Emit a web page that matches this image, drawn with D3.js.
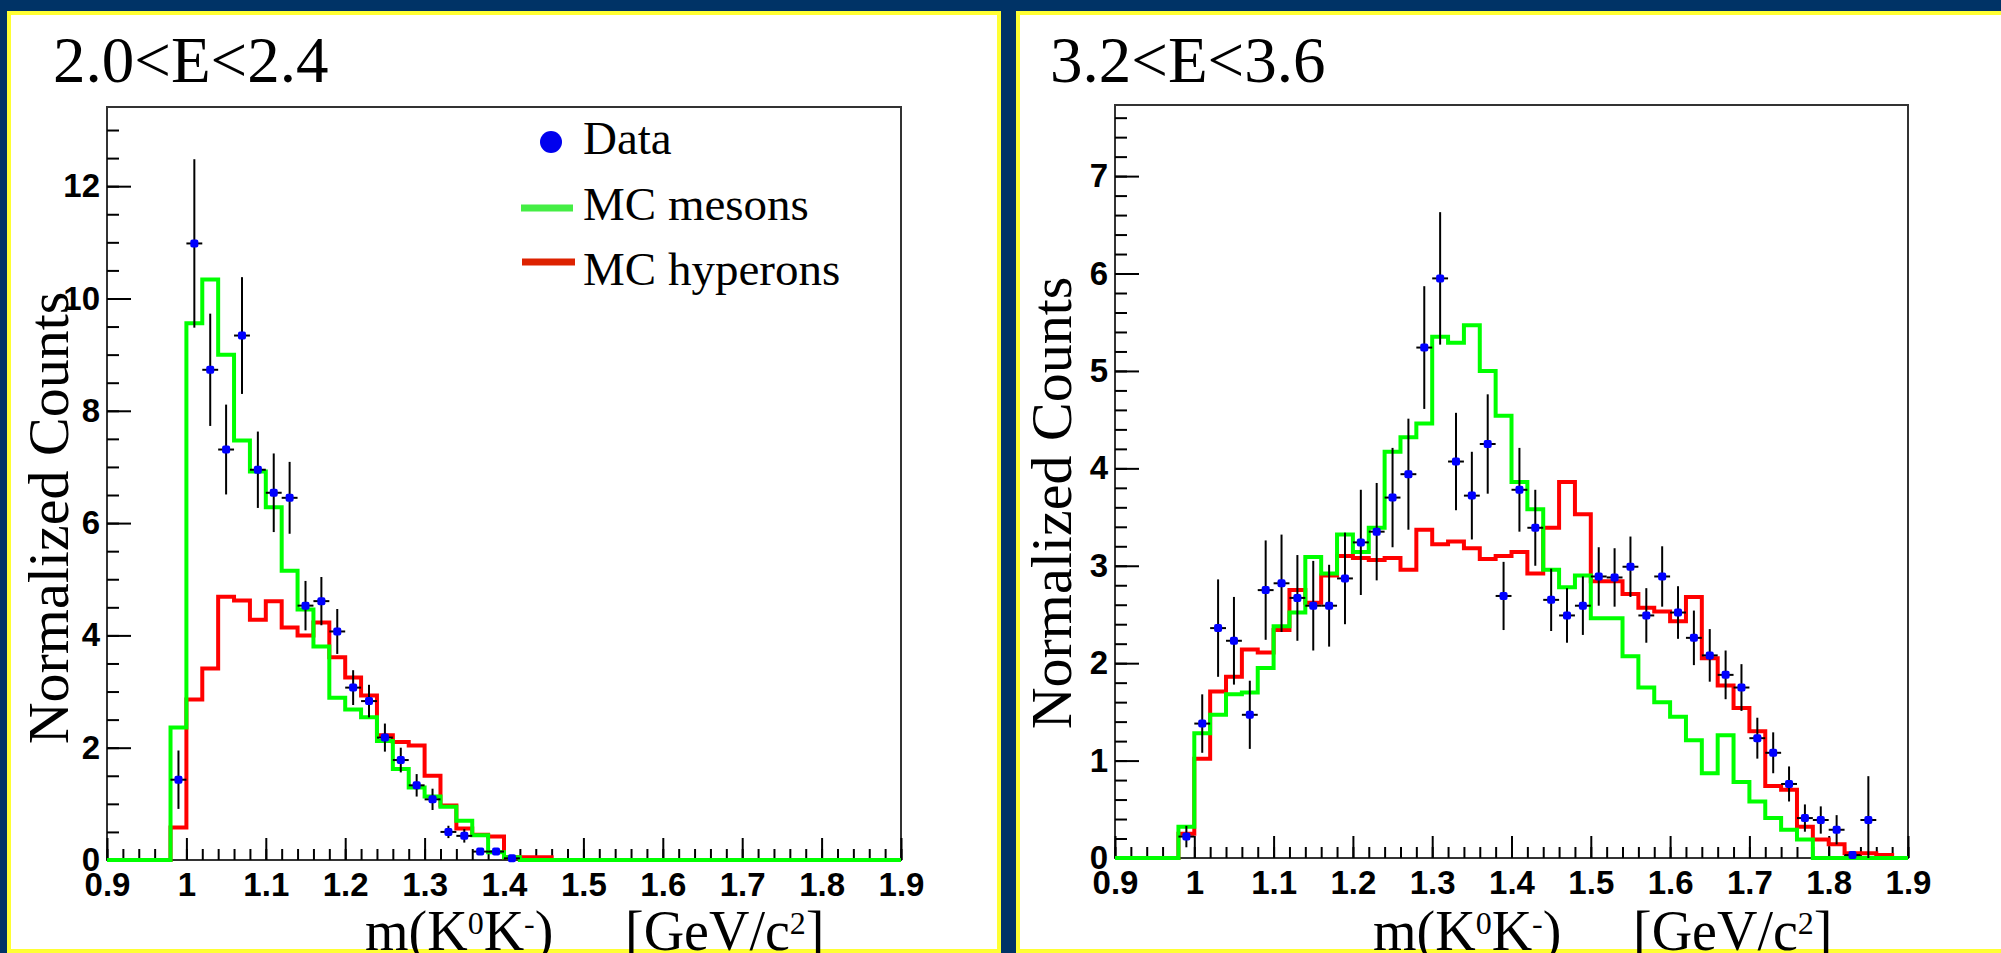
<!DOCTYPE html>
<html>
<head>
<meta charset="utf-8">
<script src="https://cdn.jsdelivr.net/npm/d3@7"></script>
<style>
    body { margin: 0; background: #003366; overflow: hidden; }
    .tick text {
        font-family: "Liberation Sans", Arial, sans-serif;
        font-weight: bold;
        font-size: 33px;
        fill: #000;
    }
    .serif { font-family: "Liberation Serif", "Times New Roman", serif; fill: #000; }
</style>
</head>
<body>
<script>
// histogram bins: 0.02 GeV/c2 wide, 0.9 -> 1.9
const binStart = 0.9;
const binWidth = 0.02;
const xTicks = [0.9, 1.0, 1.1, 1.2, 1.3, 1.4, 1.5, 1.6, 1.7, 1.8, 1.9];

// 2.0 < E < 2.4
const lowMesons = [
    0, 0, 0, 0, 2.36, 9.56, 10.34, 9.0, 7.47, 6.92,
    6.28, 5.15, 4.46, 3.80, 2.89, 2.68, 2.54, 2.12, 1.62, 1.29,
    1.13, 0.95, 0.70, 0.44, 0.14, 0.05, 0, 0, 0, 0,
    0, 0, 0, 0, 0, 0, 0, 0, 0, 0,
    0, 0, 0, 0, 0, 0, 0, 0, 0, 0,
];
const lowHyperons = [
    0, 0, 0, 0, 0.58, 2.86, 3.41, 4.69, 4.62, 4.28,
    4.61, 4.14, 4.0, 4.23, 3.61, 3.25, 2.93, 2.22, 2.10, 2.04,
    1.50, 0.97, 0.56, 0.45, 0.42, 0.05, 0.05, 0.05, 0, 0,
    0, 0, 0, 0, 0, 0, 0, 0, 0, 0,
    0, 0, 0, 0, 0, 0, 0, 0, 0, 0,
];
const lowDataMass = [
    0.99, 1.01, 1.03, 1.05, 1.07, 1.09, 1.11, 1.13, 1.15, 1.17, 1.19,
    1.21, 1.23, 1.25, 1.27, 1.29, 1.31, 1.33, 1.35, 1.37, 1.39, 1.41,
];
const lowDataCounts = [
    1.43, 10.98, 8.73, 7.31, 9.34, 6.95, 6.54, 6.45, 4.53, 4.61, 4.07,
    3.07, 2.83, 2.18, 1.78, 1.33, 1.08, 0.50, 0.43, 0.15, 0.15, 0.03,
];
const lowDataErr = [
    0.52, 1.5, 1.0, 0.8, 1.04, 0.68, 0.7, 0.64, 0.44, 0.43, 0.4,
    0.31, 0.29, 0.25, 0.22, 0.2, 0.19, 0.11, 0.12, 0.03, 0.03, 0.02,
];

// 3.2 < E < 3.6
const highMesons = [
    0, 0, 0, 0, 0.32, 1.28, 1.47, 1.68, 1.70, 1.95,
    2.38, 2.52, 3.09, 2.92, 3.32, 3.14, 3.39, 4.17, 4.32, 4.46,
    5.35, 5.29, 5.47, 5.0, 4.54, 3.86, 3.58, 2.96, 2.78, 2.90,
    2.46, 2.46, 2.07, 1.75, 1.60, 1.45, 1.21, 0.87, 1.26, 0.78,
    0.58, 0.41, 0.29, 0.19, 0, 0, 0, 0, 0, 0,
];
const highHyperons = [
    0, 0, 0, 0, 0.25, 1.02, 1.71, 1.86, 2.14, 2.11,
    2.34, 2.75, 2.62, 2.90, 3.10, 3.08, 3.06, 3.08, 2.96, 3.37,
    3.22, 3.25, 3.18, 3.07, 3.10, 3.14, 2.92, 3.39, 3.86, 3.53,
    2.84, 2.84, 2.71, 2.57, 2.53, 2.43, 2.68, 2.05, 1.77, 1.54,
    1.30, 0.74, 0.70, 0.32, 0.19, 0.14, 0.05, 0.05, 0.03, 0,
];
const highDataMass = [
    0.99, 1.01, 1.03, 1.05, 1.07, 1.09, 1.11, 1.13, 1.15, 1.17, 1.19,
    1.21, 1.23, 1.25, 1.27, 1.29, 1.31, 1.33, 1.35, 1.37, 1.39, 1.41,
    1.43, 1.45, 1.47, 1.49, 1.51, 1.53, 1.55, 1.57, 1.59, 1.61, 1.63,
    1.65, 1.67, 1.69, 1.71, 1.73, 1.75, 1.77, 1.79, 1.81, 1.83, 1.85,
];
const highDataCounts = [
    0.22, 1.38, 2.36, 2.23, 1.47, 2.75, 2.82, 2.67, 2.59, 2.59, 2.87,
    3.24, 3.35, 3.70, 3.94, 5.24, 5.95, 4.07, 3.72, 4.25, 2.69, 3.78,
    3.39, 2.65, 2.49, 2.59, 2.89, 2.88, 2.99, 2.49, 2.89, 2.52, 2.26,
    2.08, 1.88, 1.75, 1.23, 1.08, 0.76, 0.41, 0.39, 0.29, 0.03, 0.39,
];
const highDataErr = [
    0.11, 0.3, 0.5, 0.45, 0.35, 0.51, 0.5, 0.44, 0.46, 0.42, 0.47,
    0.54, 0.5, 0.51, 0.57, 0.63, 0.68, 0.5, 0.45, 0.51, 0.35, 0.43,
    0.39, 0.32, 0.28, 0.3, 0.3, 0.3, 0.31, 0.28, 0.31, 0.27, 0.28,
    0.27, 0.25, 0.24, 0.21, 0.21, 0.18, 0.14, 0.14, 0.15, 0.02, 0.45,
];

const legendLabels = ["Data", "MC mesons", "MC hyperons"];

const width = 2001;
const height = 953;

const svg = d3
    .select("body")
    .append("svg")
    .attr("width", width)
    .attr("height", height);

svg.append("rect")
    .attr("width", width)
    .attr("height", height)
    .attr("fill", "#003366");

// white slides with a yellow rim
svg.append("rect")
    .attr("x", 9).attr("y", 13)
    .attr("width", 990).attr("height", 938)
    .attr("fill", "#fff")
    .attr("stroke", "#ffff33")
    .attr("stroke-width", 4);
svg.append("rect")
    .attr("x", 1018).attr("y", 13)
    .attr("width", 1000).attr("height", 938)
    .attr("fill", "#fff")
    .attr("stroke", "#ffff33")
    .attr("stroke-width", 4);

function drawPanel(opt) {
    const g = svg.append("g");

    const x = d3.scaleLinear().domain([0.9, 1.9]).range([opt.left, opt.right]);
    const y = d3.scaleLinear().domain([0, opt.yMax]).range([opt.base, opt.top]);

    // frame
    g.append("rect")
        .attr("x", opt.left)
        .attr("y", opt.top)
        .attr("width", opt.right - opt.left)
        .attr("height", opt.base - opt.top)
        .attr("fill", "none")
        .attr("stroke", "#333")
        .attr("stroke-width", 2);

    const xMinor = d3.range(0, 51).map((i) => binStart + i * binWidth);
    const yMinor = d3.range(0, opt.yMax, opt.yMinorStep);

    g.append("g")
        .attr("transform", `translate(0,${opt.base})`)
        .call(d3.axisBottom(x).tickValues(xMinor).tickSize(-11).tickSizeOuter(0).tickFormat(""))
        .call((a) => a.select(".domain").remove());
    g.append("g")
        .attr("transform", `translate(0,${opt.base})`)
        .call(
            d3.axisBottom(x)
                .tickValues(xTicks)
                .tickSize(-22)
                .tickSizeOuter(0)
                .tickPadding(13)
                .tickFormat((d) => String(+d.toFixed(1)))
        )
        .call((a) => a.select(".domain").remove());

    g.append("g")
        .attr("transform", `translate(${opt.left},0)`)
        .call(d3.axisLeft(y).tickValues(yMinor).tickSize(-12).tickSizeOuter(0).tickFormat(""))
        .call((a) => a.select(".domain").remove());
    g.append("g")
        .attr("transform", `translate(${opt.left},0)`)
        .call(
            d3.axisLeft(y)
                .tickValues(opt.yTicks)
                .tickSize(-24)
                .tickSizeOuter(0)
                .tickPadding(7)
                .tickFormat(d3.format("d"))
        )
        .call((a) => a.select(".domain").remove());

    g.selectAll(".tick line").attr("stroke-width", 2);

    // step histograms, hyperons under mesons
    const step = d3
        .line()
        .x((d) => x(d[0]))
        .y((d) => y(d[1]))
        .curve(d3.curveStepAfter);

    function histPoints(values) {
        const pts = values.map((v, i) => [binStart + i * binWidth, v]);
        pts.push([1.9, values[values.length - 1]]);
        return pts;
    }

    g.append("path")
        .attr("d", step(histPoints(opt.hyperons)))
        .attr("fill", "none")
        .attr("stroke", "#ff0000")
        .attr("stroke-width", 4);
    g.append("path")
        .attr("d", step(histPoints(opt.mesons)))
        .attr("fill", "none")
        .attr("stroke", "#00ff00")
        .attr("stroke-width", 4);

    // data with error bars
    const pts = opt.mass.map((m, i) => ({ m: m, c: opt.counts[i], e: opt.err[i] }));
    const dots = g.selectAll(".dataPoint").data(pts).enter().append("g").attr("class", "dataPoint");

    dots.append("line")
        .attr("x1", (d) => x(d.m))
        .attr("x2", (d) => x(d.m))
        .attr("y1", (d) => y(Math.max(0, d.c - d.e)))
        .attr("y2", (d) => y(d.c + d.e))
        .attr("stroke", "#000")
        .attr("stroke-width", 2);
    dots.append("line")
        .attr("x1", (d) => x(d.m - binWidth / 2))
        .attr("x2", (d) => x(d.m + binWidth / 2))
        .attr("y1", (d) => y(d.c))
        .attr("y2", (d) => y(d.c))
        .attr("stroke", "#000")
        .attr("stroke-width", 2);
    dots.append("rect")
        .attr("x", (d) => x(d.m) - 4)
        .attr("y", (d) => y(d.c) - 4)
        .attr("width", 8)
        .attr("height", 8)
        .attr("rx", 2)
        .attr("fill", "#0000ff");

    // titles and axis labels
    g.append("text")
        .attr("class", "serif")
        .attr("x", opt.titleX)
        .attr("y", 82)
        .attr("font-size", 65)
        .text(opt.title);

    g.append("text")
        .attr("class", "serif")
        .attr("transform", `translate(${opt.yLabelX},${opt.yLabelY}) rotate(-90)`)
        .attr("text-anchor", "middle")
        .attr("font-size", 58)
        .text("Normalized Counts");

    const xl = g.append("text")
        .attr("class", "serif")
        .attr("x", opt.left + 258)
        .attr("y", 950)
        .attr("font-size", 56);
    xl.append("tspan").text("m(K");
    xl.append("tspan").attr("font-size", 32).attr("dy", -16).text("0");
    xl.append("tspan").attr("dy", 16).text("K");
    xl.append("tspan").attr("font-size", 32).attr("dy", -16).text("-");
    xl.append("tspan").attr("dy", 16).text(")");

    const xu = g.append("text")
        .attr("class", "serif")
        .attr("x", opt.left + 518)
        .attr("y", 950)
        .attr("font-size", 56);
    xu.append("tspan").text("[GeV/c");
    xu.append("tspan").attr("font-size", 32).attr("dy", -16).text("2");
    xu.append("tspan").attr("dy", 16).text("]");

    return g;
}

const leftPanel = drawPanel({
    left: 107, right: 901, top: 107, base: 860,
    yMax: 13.41, yTicks: [0, 2, 4, 6, 8, 10, 12], yMinorStep: 0.5,
    mesons: lowMesons, hyperons: lowHyperons,
    mass: lowDataMass, counts: lowDataCounts, err: lowDataErr,
    title: "2.0<E<2.4", titleX: 53,
    yLabelX: 68, yLabelY: 518,
});

drawPanel({
    left: 1115, right: 1908, top: 105, base: 858,
    yMax: 7.73, yTicks: [0, 1, 2, 3, 4, 5, 6, 7], yMinorStep: 0.2,
    mesons: highMesons, hyperons: highHyperons,
    mass: highDataMass, counts: highDataCounts, err: highDataErr,
    title: "3.2<E<3.6", titleX: 1050,
    yLabelX: 1071, yLabelY: 503,
});

// legend (left panel only)
const legend = leftPanel.append("g");
legend.append("circle")
    .attr("cx", 551).attr("cy", 142).attr("r", 11)
    .attr("fill", "#0000ee");
legend.append("line")
    .attr("x1", 521).attr("x2", 573)
    .attr("y1", 208).attr("y2", 208)
    .attr("stroke", "#44ee44").attr("stroke-width", 7);
legend.append("line")
    .attr("x1", 522).attr("x2", 575)
    .attr("y1", 262).attr("y2", 262)
    .attr("stroke", "#dd2200").attr("stroke-width", 7);
legend.selectAll(".legendText")
    .data(legendLabels)
    .enter()
    .append("text")
    .attr("class", "serif legendText")
    .attr("x", 583)
    .attr("y", (d, i) => [154, 220, 285][i])
    .attr("font-size", 47)
    .text((d) => d);
</script>
</body>
</html>
